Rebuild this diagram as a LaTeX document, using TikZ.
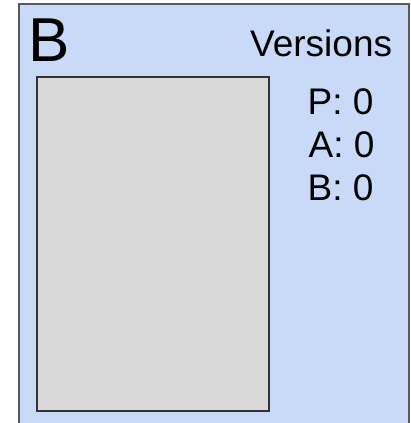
\documentclass[tikz,border=0pt]{standalone}
\usepackage{fontspec}
\setmainfont{Liberation Sans}
\definecolor{panelblue}{HTML}{C9DAF8}
\definecolor{panelborder}{HTML}{595959}
\definecolor{boxgray}{HTML}{D9D9D9}
\definecolor{boxborder}{HTML}{333333}
\begin{document}
\begin{tikzpicture}[x=1pt,y=-1pt,
  panel/.style={fill=panelblue,draw=panelborder,line width=2pt},
  grayrect/.style={fill=boxgray,draw=boxborder,line width=2pt},
  lbl/.style={inner sep=0pt,font=\fontsize{37}{44}\selectfont},
  biglbl/.style={inner sep=0pt,font=\fontsize{62}{70}\selectfont}]
\useasboundingbox (0,0) rectangle (410,423);
\clip (0,0) rectangle (410,423);
\draw[panel] (19,4) rectangle (408.5,440);
\node[grayrect,minimum width=232pt,minimum height=333.5pt,inner sep=0pt,anchor=north west] (content) at (36,76) {};
\node[biglbl,anchor=base west] (title) at (28,61) {B};
\node[lbl,anchor=base west] (versions) at (250,56) {Versions};
\node[lbl,anchor=base west] (vp) at (307.5,114) {P: 0};
\node[lbl,anchor=base west] (va) at (308.5,157) {A: 0};
\node[lbl,anchor=base west] (vb) at (307.5,200) {B: 0};
\end{tikzpicture}
\end{document}
